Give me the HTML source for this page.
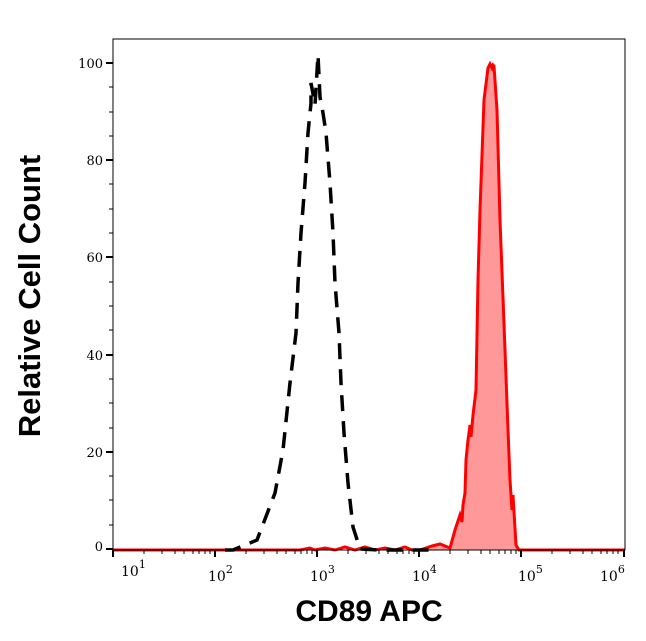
<!DOCTYPE html>
<html><head><meta charset="utf-8"><style>body{margin:0;background:#fff}svg{display:block}</style></head>
<body>
<svg width="646" height="641" xmlns="http://www.w3.org/2000/svg" font-family="'DejaVu Serif','Liberation Serif',serif">
<rect width="646" height="641" fill="#fff"/>
<polygon fill="#ff9999" points="420,550 432,546 440,544 450,548 455,530 460,515 462,522 463,505 465,493 466,460 468,440 470,425 471,437 473,415 476,390 478,280 480,210 484,100 488,68 490,64 492,68 493,65 494,66 497,110 500,220 505,350 508,430 510,480 512,510 513,495 516,545 519,550"/>
<polyline fill="none" stroke="#ff0000" stroke-width="3" points="113,550 300,550 310,548 315,550 325,548 335,550 345,547 355,550 365,547 375,550 385,548 395,550 405,547 412,550 420,550 432,546 440,544 450,548 455,530 460,515 462,522 463,505 465,493 466,460 468,440 470,425 471,437 473,415 476,390 478,280 480,210 484,100 488,68 490,64 492,68 493,65 494,66 497,110 500,220 505,350 508,430 510,480 512,510 513,495 516,545 519,550 625,550"/>
<polyline fill="none" stroke="#000" stroke-width="3.5" stroke-dasharray="16,10" points="225,550 233,550 257,540 275,493 283,450 290,383 296,333 298,283 301,233 305,183 308,133 311,103 311,83 315,105 318,55 320,97 323,113 326,133 330,183 333,233 335,283 339,333 341,383 344,433 348,483 353,527 360,549 380,550 430,550"/>
<rect x="113" y="39" width="512" height="511" fill="none" stroke="#000" stroke-width="1"/>
<g stroke="#000" stroke-width="2">
<line x1="106" y1="63" x2="113" y2="63"/><line x1="106" y1="160" x2="113" y2="160"/><line x1="106" y1="257" x2="113" y2="257"/><line x1="106" y1="355" x2="113" y2="355"/><line x1="106" y1="452" x2="113" y2="452"/><line x1="106" y1="549" x2="113" y2="549"/>
</g>
<g stroke="#000" stroke-width="1">
<line x1="109" y1="87" x2="113" y2="87"/><line x1="109" y1="112" x2="113" y2="112"/><line x1="109" y1="136" x2="113" y2="136"/>
<line x1="109" y1="184" x2="113" y2="184"/><line x1="109" y1="209" x2="113" y2="209"/><line x1="109" y1="233" x2="113" y2="233"/>
<line x1="109" y1="282" x2="113" y2="282"/><line x1="109" y1="306" x2="113" y2="306"/><line x1="109" y1="330" x2="113" y2="330"/>
<line x1="109" y1="379" x2="113" y2="379"/><line x1="109" y1="403" x2="113" y2="403"/><line x1="109" y1="428" x2="113" y2="428"/>
<line x1="109" y1="476" x2="113" y2="476"/><line x1="109" y1="500" x2="113" y2="500"/><line x1="109" y1="525" x2="113" y2="525"/>
</g>
<g font-size="13" text-anchor="end">
<text x="103" y="68">100</text><text x="103" y="165">80</text><text x="103" y="262">60</text><text x="103" y="360">40</text><text x="103" y="457">20</text><text x="103" y="551">0</text>
</g>
<g stroke="#000" stroke-width="2">
<line x1="113" y1="550" x2="113" y2="557"/><line x1="215" y1="550" x2="215" y2="557"/><line x1="317" y1="550" x2="317" y2="557"/><line x1="419" y1="550" x2="419" y2="557"/><line x1="521" y1="550" x2="521" y2="557"/><line x1="624" y1="550" x2="624" y2="557"/>
</g>
<g stroke="#000" stroke-width="1" id="minor">
<line x1="144" y1="550" x2="144" y2="554"/><line x1="162" y1="550" x2="162" y2="554"/><line x1="175" y1="550" x2="175" y2="554"/><line x1="184" y1="550" x2="184" y2="554"/><line x1="193" y1="550" x2="193" y2="554"/><line x1="199" y1="550" x2="199" y2="554"/><line x1="205" y1="550" x2="205" y2="554"/><line x1="210" y1="550" x2="210" y2="554"/>
</g>
<use href="#minor" x="102"/><use href="#minor" x="204"/><use href="#minor" x="306"/><use href="#minor" x="408"/>
<g font-size="14">
<text x="121" y="576">10<tspan font-size="11" dy="-8">1</tspan></text>
<text x="208" y="581">10<tspan font-size="11" dy="-8">2</tspan></text>
<text x="310" y="581">10<tspan font-size="11" dy="-8">3</tspan></text>
<text x="412" y="581">10<tspan font-size="11" dy="-8">4</tspan></text>
<text x="518" y="581">10<tspan font-size="11" dy="-8">5</tspan></text>
<text x="600" y="581">10<tspan font-size="11" dy="-8">6</tspan></text>
</g>
<text x="369" y="621" font-family="'Liberation Sans',sans-serif" font-weight="bold" font-size="30" text-anchor="middle">CD89 APC</text>
<text transform="translate(40,296) rotate(-90)" font-family="'Liberation Sans',sans-serif" font-weight="bold" font-size="31" text-anchor="middle">Relative Cell Count</text>
</svg>
</body></html>
